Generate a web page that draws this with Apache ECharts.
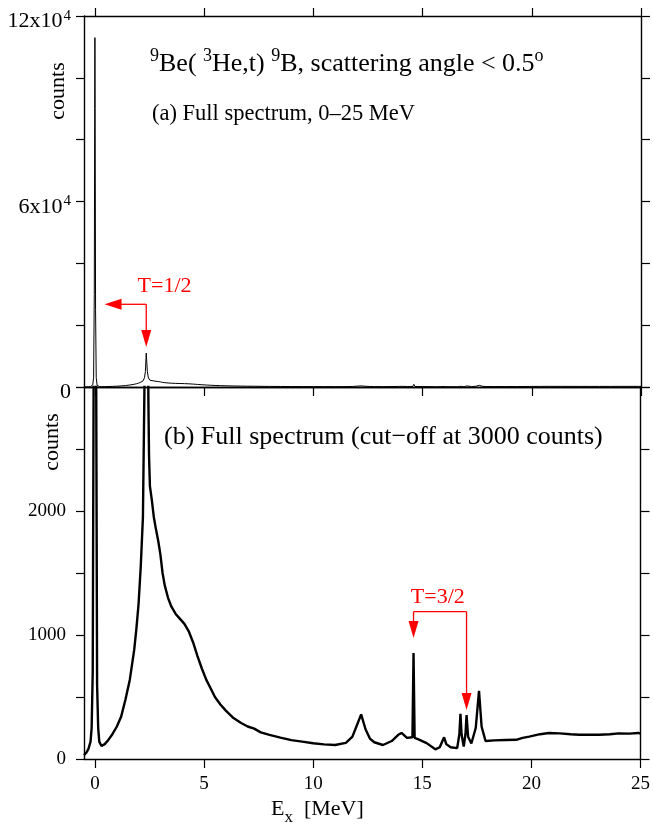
<!DOCTYPE html>
<html><head><meta charset="utf-8">
<script src="https://cdn.jsdelivr.net/npm/echarts@6/dist/echarts.min.js"></script>
<style>html,body{margin:0;padding:0;background:#fff}#c{width:653px;height:827px}</style>
</head><body><div id="c"></div>
<script>
// Excitation energy (MeV) and counts
const energy = [-0.5,-0.4,-0.3,-0.2,-0.15,-0.1,-0.06,-0.03,-0.01,0.0,0.01,0.03,0.06,0.1,0.15,0.2,0.3,0.35,0.45,0.6,0.8,1.0,1.2,1.4,1.6,1.8,1.9,2.0,2.1,2.2,2.27,2.31,2.35,2.4,2.45,2.48,2.52,2.6,2.7,2.8,2.9,3.0,3.1,3.2,3.35,3.5,3.7,3.9,4.1,4.3,4.5,4.7,4.9,5.1,5.3,5.5,5.75,6.0,6.35,6.7,7.0,7.3,7.6,8.0,8.5,9.0,9.5,10.0,10.5,11.0,11.5,11.8,12.0,12.2,12.4,12.6,12.8,13.2,13.6,13.9,14.05,14.3,14.55,14.6,14.65,14.8,15.2,15.6,15.8,16.0,16.1,16.3,16.6,16.7,16.75,16.8,16.9,16.98,17.03,17.1,17.25,17.45,17.6,17.72,17.9,18.3,18.8,19.3,19.6,19.9,20.4,20.8,21.3,21.8,22.2,22.7,23.1,23.6,24.0,24.5,24.9,25.0];
const counts = [30,50,80,140,250,700,3000,30000,90000,113000,90000,25000,3000,600,250,140,105,100,120,150,200,260,340,480,640,880,1050,1250,1550,1950,3000,5000,11000,5000,2900,2450,2200,2100,1950,1850,1760,1650,1500,1400,1300,1230,1170,1130,1090,1030,940,830,730,640,570,500,440,390,330,290,262,245,215,195,172,152,140,127,118,113,130,180,270,360,240,165,135,113,145,195,210,170,175,855,170,160,128,78,95,175,120,95,88,200,365,200,100,200,355,180,125,250,550,260,145,150,153,155,170,180,200,210,207,200,195,195,195,200,207,205,210,205];
const xTicks = [0,5,10,15,20,25];
const topYLabels = {0:'{m|0}', 60000:'{m|6x10}{s|4}', 120000:'{m|12x10}{s|4}'};
const bottomYLabels = {0:'0', 1000:'1000', 2000:'2000'};

const FONT = '"Liberation Serif", "Times New Roman", serif';
const chart = echarts.init(document.getElementById('c'), null, {renderer:'canvas'});
const data = energy.map((e,i)=>[e,counts[i]]);
const axLine = {show:true, onZero:false, lineStyle:{color:'#000', width:1.4}};
const xBase = {type:'value', min:-0.5, max:25, splitLine:{show:false}, axisLine:axLine};
const labelRich = {m:{fontFamily:FONT,fontSize:22,color:'#000',lineHeight:24,verticalAlign:'bottom'}, s:{fontFamily:FONT,fontSize:15,color:'#000',lineHeight:16,verticalAlign:'top',padding:[0,0,0,1]}};

chart.setOption({
  animation:false,
  backgroundColor:'#fff',
  grid:[{left:84, top:16, width:557, height:371}, {left:84, top:387, width:557, height:372}],
  xAxis:[
    Object.assign({}, xBase, {gridIndex:0, position:'bottom', axisTick:{show:true, inside:false, length:9, customValues:xTicks, lineStyle:{color:'#000',width:1.2}}, axisLabel:{show:false}}),
    Object.assign({}, xBase, {gridIndex:0, position:'top', axisTick:{show:true, inside:false, length:8, customValues:xTicks, lineStyle:{color:'#000',width:1.2}}, axisLabel:{show:false}}),
    Object.assign({}, xBase, {gridIndex:1, position:'bottom', axisTick:{show:true, inside:false, length:9, customValues:xTicks, lineStyle:{color:'#000',width:1.2}}, axisLabel:{show:true, customValues:xTicks, margin:16, fontFamily:FONT, fontSize:19, color:'#000'}}),
    Object.assign({}, xBase, {gridIndex:1, position:'top', axisTick:{show:false}, axisLabel:{show:false}})
  ],
  yAxis:[
    {type:'value', gridIndex:0, position:'left', min:0, max:120000, interval:20000, splitLine:{show:false}, axisLine:axLine,
     axisTick:{show:true, inside:false, length:8, lineStyle:{color:'#000',width:1.2}},
     axisLabel:{margin:13, padding:[9,0,0,0], formatter:v=>topYLabels[v]||'', rich:labelRich, fontFamily:FONT, fontSize:22, color:'#000'}},
    {type:'value', gridIndex:0, position:'right', min:0, max:120000, interval:20000, splitLine:{show:false}, axisLine:axLine,
     axisTick:{show:true, inside:false, length:9, lineStyle:{color:'#000',width:1.2}}, axisLabel:{show:false}},
    {type:'value', gridIndex:1, position:'left', min:0, max:3000, interval:500, splitLine:{show:false}, axisLine:axLine,
     axisTick:{show:true, inside:false, length:8, lineStyle:{color:'#000',width:1.2}},
     axisLabel:{margin:18, formatter:v=>bottomYLabels[v]||'', fontFamily:FONT, fontSize:19, color:'#000'}},
    {type:'value', gridIndex:1, position:'right', min:0, max:3000, interval:500, splitLine:{show:false}, axisLine:axLine,
     axisTick:{show:true, inside:false, length:9, lineStyle:{color:'#000',width:1.2}}, axisLabel:{show:false}}
  ],
  series:[
    {type:'line', xAxisIndex:0, yAxisIndex:0, data:data, showSymbol:false, symbol:'none', clip:true, lineStyle:{color:'#000', width:1}},
    {type:'line', xAxisIndex:2, yAxisIndex:2, data:data, showSymbol:false, symbol:'none', clip:true, lineStyle:{color:'#000', width:2.4}}
  ]
});

// annotations in data coordinates
const ann12 = {corner:[2.35,26750], leftTip:[0.44,26750], downTip:[2.35,12900], label:[3.19,32700]};
const ann32 = {left:[14.6,1188], leftTip:[14.6,976], right:[17.03,1188], rightTip:[17.03,395], label:[15.71,1306]};
const p0 = v => chart.convertToPixel({gridIndex:0}, v);
const p1 = v => chart.convertToPixel({gridIndex:1}, v);
const RED = '#ff0000';
function line(a,b){return {type:'line', shape:{x1:a[0],y1:a[1],x2:b[0],y2:b[1]}, style:{stroke:RED, lineWidth:1.3}};}
function headDown(t){return {type:'polygon', shape:{points:[[t[0],t[1]],[t[0]-5,t[1]-17],[t[0]+5,t[1]-17]]}, style:{fill:RED}};}
function headLeft(t){return {type:'polygon', shape:{points:[[t[0],t[1]],[t[0]+17,t[1]-5.5],[t[0]+17,t[1]+5.5]]}, style:{fill:RED}};}
function txt(x,y,text,size,extra){return Object.assign({type:'text', x:x, y:y, style:{text:text, fontFamily:FONT, fontSize:size, fill:'#000', align:'left', verticalAlign:'middle'}}, extra||{});}

const c12 = p0(ann12.corner), l12 = p0(ann12.leftTip), d12 = p0(ann12.downTip), t12 = p0(ann12.label);
const a32 = p1(ann32.left), la32 = p1(ann32.leftTip), b32 = p1(ann32.right), rb32 = p1(ann32.rightTip), t32 = p1(ann32.label);

const supRich = {m:{fontFamily:FONT,fontSize:26,lineHeight:30,verticalAlign:'bottom',fill:'#000'}, s:{fontFamily:FONT,fontSize:18,lineHeight:20,verticalAlign:'top',fill:'#000'}};
const graphics = [
  {type:'text', x:150, y:62, style:{text:'{s|9}{m|Be( }{s|3}{m|He,t) }{s|9}{m|B, scattering angle < 0.5}{s|o}', rich:supRich, align:'left', verticalAlign:'middle'}},
  txt(152, 114, '(a) Full spectrum, 0\u201325 MeV', 22.5),
  txt(164, 437, '(b) Full spectrum (cut\u2212off at 3000 counts)', 26),
  txt(58, 91, 'counts', 22, {rotation:Math.PI/2, style:{text:'counts', fontFamily:FONT, fontSize:22, fill:'#000', align:'center', verticalAlign:'middle'}}),
  txt(52, 442, 'counts', 22, {rotation:Math.PI/2, style:{text:'counts', fontFamily:FONT, fontSize:22, fill:'#000', align:'center', verticalAlign:'middle'}}),
  {type:'text', x:271, y:810, style:{text:'{m|E}{s|x}{m|  [MeV]}', align:'left', verticalAlign:'middle',
    rich:{m:{fontFamily:FONT,fontSize:22,lineHeight:24,verticalAlign:'top',fill:'#000'}, s:{fontFamily:FONT,fontSize:17,lineHeight:17,verticalAlign:'bottom',fill:'#000',padding:[0,0,-4,0]}}}},
  line(c12, [l12[0]+15, l12[1]]), headLeft(l12), line(c12, [d12[0], d12[1]-15]), headDown(d12),
  {type:'text', x:t12[0], y:t12[1], style:{text:'T=1/2', fontFamily:FONT, fontSize:22, fill:RED, align:'center', verticalAlign:'middle'}},
  line(a32, b32), line(a32, [la32[0], la32[1]-15]), headDown(la32), line(b32, [rb32[0], rb32[1]-15]), headDown(rb32),
  {type:'text', x:t32[0], y:t32[1], style:{text:'T=3/2', fontFamily:FONT, fontSize:22, fill:RED, align:'center', verticalAlign:'middle'}}
];
chart.setOption({graphic:graphics});
</script></body></html>
